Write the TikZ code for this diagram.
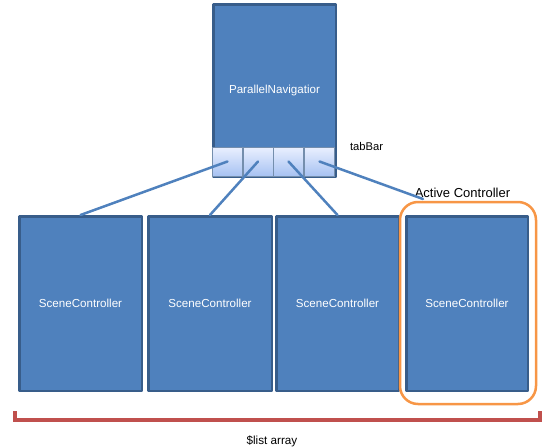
\documentclass[tikz,border=0pt]{standalone}
\usepackage{fontspec}
\setmainfont{Liberation Sans}
\usepackage{tikz}
\usetikzlibrary{arrows}

\definecolor{boxfill}{HTML}{4F81BD}
\definecolor{boxline}{HTML}{385D8A}
\definecolor{tabtop}{HTML}{EAF0FF}
\definecolor{tabbot}{HTML}{A7C2F2}
\definecolor{actline}{HTML}{F79646}
\definecolor{listline}{HTML}{C0504D}

\begin{document}
\begin{tikzpicture}[line cap=round,line join=round,x=1pt,y=-1pt,
    box/.style={draw=boxline, fill=boxfill, line width=2.5pt, text=white, inner sep=0pt, font=\fontsize{11.6}{13}\selectfont},
    tab/.style={draw=boxline!70, top color=tabtop, bottom color=tabbot, line width=0.8pt, minimum width=30pt, minimum height=29pt, inner sep=0pt},
    link/.style={draw=boxfill, line width=2.5pt},
    lbl/.style={text=black, inner sep=0pt}]
                    \useasboundingbox (0,0) rectangle (547,447);

                    \node[box, minimum width=122.5pt, minimum height=172.5pt] (1) at (274.5,90.5) {ParallelNavigatior};
                    \node[tab] (2) at (227.5,161.5) {};
                    \node[tab] (3) at (258,161.5) {};
                    \node[tab] (4) at (288.5,161.5) {};
                    \node[tab] (5) at (319.5,161.5) {};
                    \node[lbl, font=\fontsize{11.2}{13}\selectfont] at (366.5,146) {tabBar};

                    \node[box, minimum width=122.5pt, minimum height=174.5pt] (6) at (80.5,303.5) {SceneController};
                    \node[box, minimum width=123.5pt, minimum height=174.5pt] (7) at (210,303.5) {SceneController};
                    \node[box, minimum width=122.5pt, minimum height=174.5pt] (8) at (337.5,303.5) {SceneController};
                    \node[box, minimum width=121.5pt, minimum height=174.5pt] (9) at (467,303.5) {SceneController};

                    \node[draw=actline, line width=2.5pt, rounded corners=18pt, minimum width=136pt, minimum height=202pt] (active) at (468,303) {};
                    \node[lbl, font=\fontsize{13}{15}\selectfont] at (462.5,193) {Active Controller};
                    \coordinate (10) at (423,199);

                    \draw[link] (2.center) -- (6.north);
                    \draw[link] (3.center) -- (7.north);
                    \draw[link] (4.center) -- (8.north);
                    \draw[link] (5.center) -- (10);

                    \draw[draw=listline, line width=3.5pt, line cap=butt, line join=miter] (15,411) -- (15,420) -- (540,420) -- (540,411);
                    \node[lbl, font=\fontsize{11.7}{13}\selectfont] at (272,441) {\$list array};
                \end{tikzpicture}
\end{document}
